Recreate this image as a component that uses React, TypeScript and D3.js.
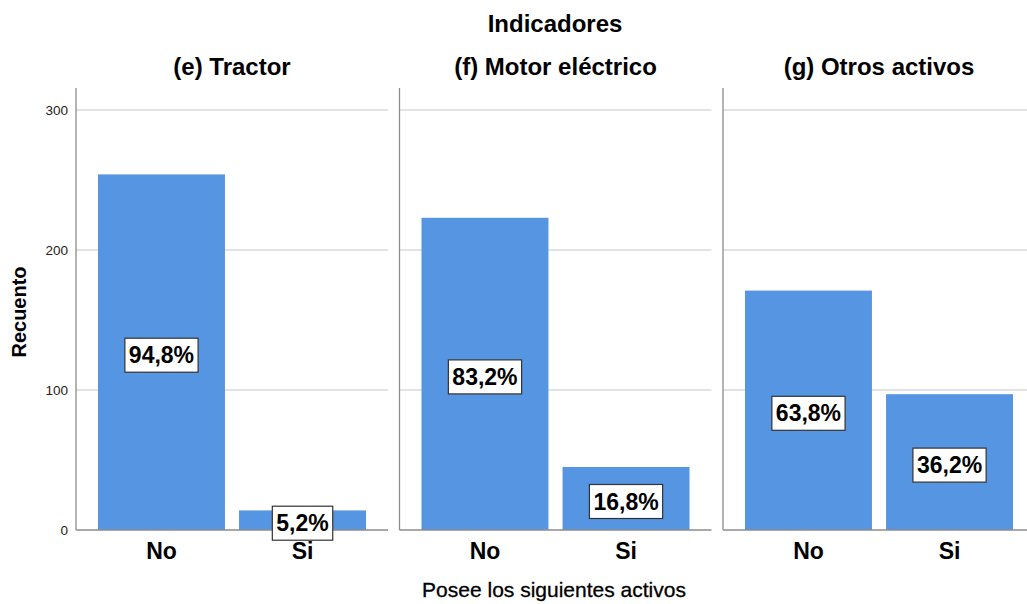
import React from "react";
import * as d3 from "d3";

const panelTitles = ["(e) Tractor", "(f) Motor eléctrico", "(g) Otros activos"];
const categories = ["No", "Si"];
const noCounts = [254, 223, 171];
const siCounts = [14, 45, 97];
const noPct = ["94,8%", "83,2%", "63,8%"];
const siPct = ["5,2%", "16,8%", "36,2%"];
const yTicks = [0, 100, 200, 300];

const W = 1027;
const H = 604;
const FONT = "'Liberation Sans', Arial, sans-serif";

let canvasCtx: CanvasRenderingContext2D | null = null;
function measure(text: string, font: string): number {
  if (!canvasCtx) {
    const c = document.createElement("canvas");
    canvasCtx = c.getContext("2d");
  }
  if (!canvasCtx) return text.length * 12;
  canvasCtx.font = font;
  return canvasCtx.measureText(text).width;
}

export default function App() {
  const y = d3.scaleLinear().domain([0, 300]).range([530, 110]);
  const panelX = d3
    .scaleBand<string>()
    .domain(panelTitles)
    .range([76, 1035])
    .paddingInner(11.5 / 323.5)
    .paddingOuter(0);
  const pw = panelX.bandwidth();
  const x = d3
    .scaleBand<string>()
    .domain(categories)
    .range([22, 290])
    .paddingInner(0.1)
    .paddingOuter(0);

  const labelFont = `bold 23px ${FONT}`;

  return (
    <svg
      width={W}
      height={H}
      style={{ position: "absolute", left: 0, top: 0, background: "#fff" }}
      fontFamily={FONT}
    >
      <rect x={0} y={0} width={W} height={H} fill="#fff" />
      <text x={555} y={32} textAnchor="middle" fontSize={24} fontWeight="bold" fill="#000">
        Indicadores
      </text>
      {yTicks.map((t) => (
        <text key={t} x={68} y={y(t) + 5} textAnchor="end" fontSize={13.5} fill="#222">
          {t}
        </text>
      ))}
      <text
        transform={`translate(26,312) rotate(-90)`}
        textAnchor="middle"
        fontSize={20}
        fontWeight="bold"
        fill="#000"
      >
        Recuento
      </text>
      {panelTitles.map((title, i) => {
        const px = panelX(title) as number;
        const vals = [noCounts[i], siCounts[i]];
        const pcts = [noPct[i], siPct[i]];
        return (
          <g key={title} transform={`translate(${px},0)`}>
            <text x={pw / 2} y={75} textAnchor="middle" fontSize={24} fontWeight="bold" fill="#000">
              {title}
            </text>
            {yTicks
              .filter((t) => t > 0)
              .map((t) => (
                <line key={t} x1={0} x2={pw} y1={y(t)} y2={y(t)} stroke="#c8c8c8" strokeWidth={1.2} />
              ))}
            {categories.map((c, j) => {
              const bx = x(c) as number;
              const bw = x.bandwidth();
              return (
                <rect
                  key={c}
                  x={bx}
                  y={y(vals[j])}
                  width={bw}
                  height={y(0) - y(vals[j])}
                  fill="#5595e2"
                />
              );
            })}
            <line x1={0} x2={pw} y1={y(0)} y2={y(0)} stroke="#8c8c8c" strokeWidth={1.3} />
            <line x1={0} x2={0} y1={88} y2={y(0)} stroke="#8c8c8c" strokeWidth={1.3} />
            {categories.map((c, j) => {
              const cx = (x(c) as number) + x.bandwidth() / 2;
              const cy = (y(vals[j]) + y(0)) / 2 + 3;
              const tw = measure(pcts[j], labelFont);
              const bw = tw + 8;
              const bh = 34;
              return (
                <g key={c}>
                  <rect
                    x={cx - bw / 2}
                    y={cy - bh / 2}
                    width={bw}
                    height={bh}
                    fill="#fff"
                    stroke="#333"
                    strokeWidth={1.2}
                  />
                  <text x={cx} y={cy + 8} textAnchor="middle" fontSize={23} fontWeight="bold" fill="#000">
                    {pcts[j]}
                  </text>
                  <text x={cx} y={559} textAnchor="middle" fontSize={23} fontWeight="bold" fill="#000">
                    {c}
                  </text>
                </g>
              );
            })}
          </g>
        );
      })}
      <text
        x={554}
        y={597}
        textAnchor="middle"
        fontSize={21}
        fill="#000"
        stroke="#000"
        strokeWidth={0.3}
      >
        Posee los siguientes activos
      </text>
    </svg>
  );
}
